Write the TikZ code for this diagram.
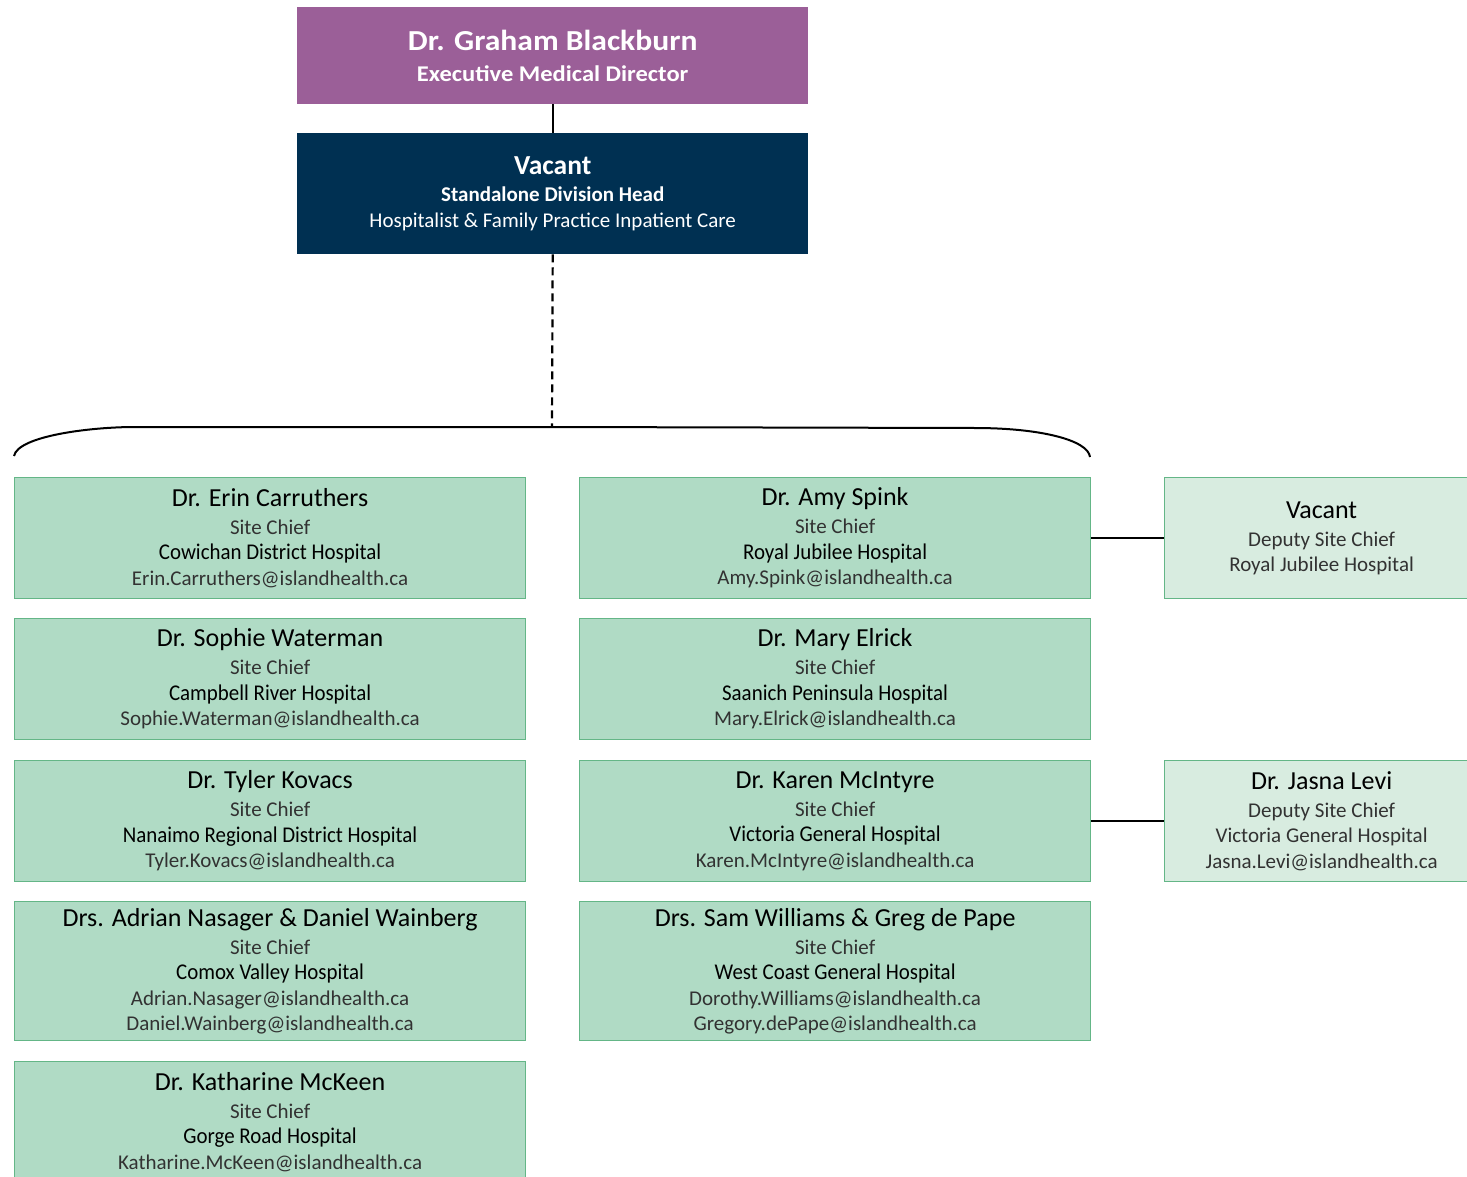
\documentclass[tikz,border=0pt]{standalone}
\usepackage{fontspec}
\setmainfont{Carlito}
\newfontfamily\condf[FakeStretch=0.93]{Carlito}
\newfontfamily\widef[FakeStretch=1.09]{Carlito}
\definecolor{purplebox}{RGB}{155,95,152}
\definecolor{navybox}{RGB}{0,48,82}
\definecolor{greenfill}{RGB}{176,219,197}
\definecolor{lightfill}{RGB}{216,236,224}
\definecolor{greenline}{RGB}{100,182,135}
\definecolor{subgray}{RGB}{50,50,50}
\newcommand\namef{\fontsize{26}{28}\selectfont}
\newcommand\smallf{\fontsize{21}{25.5}\selectfont}
\newcommand\hospf{\condf\fontsize{22.5}{25.5}\selectfont}
\newcommand\subt[1]{{\color{subgray}#1}}
\begin{document}
\begin{tikzpicture}[x=1pt,y=-1pt,
  topbox/.style={anchor=north west,inner sep=0pt,minimum width=511pt,align=center,text=white,font=\smallf},
  chief/.style={draw=greenline,fill=greenfill,line width=1.2pt,anchor=north west,inner sep=0pt,
    minimum width=511pt,minimum height=121pt,align=center,font=\smallf,text=black},
  deputy/.style={chief,fill=lightfill,minimum width=314pt},
  link/.style={line width=2.2pt,black},
  dashlink/.style={line width=2.2pt,black,dash pattern=on 8pt off 5pt},
]
\useasboundingbox (0,0) rectangle (1467,1177);

\node[topbox,fill=purplebox,minimum height=97pt] (ed) at (297,7)
  {{\widef\bfseries\fontsize{29}{30}\selectfont Dr. Graham Blackburn}\\[5pt]
   {\widef\bfseries\fontsize{22.5}{25}\selectfont Executive Medical Director}};
\node[topbox,fill=navybox,minimum height=121pt] (dh) at (297,133)
  {{\bfseries\fontsize{27.5}{28}\selectfont Vacant}\\[2pt]
   {\bfseries Standalone Division Head}\\
   {Hospitalist \& Family Practice Inpatient Care}};

\coordinate (br) at (552,427);
\draw[link] (ed.south) -- (dh.north);
\draw[dashlink] (dh.south) -- (br);
\draw[line width=2pt] (14,456) .. controls (18,436) and (90,427) .. (135,427) -- (br)
  -- (975,428) .. controls (1040,428) and (1088,440) .. (1090,457);

% column 1
\node[chief] (c1) at (14,477)
  {{\namef Dr. Erin Carruthers}\\[2.5pt]\subt{Site Chief}\\{\hospf Cowichan District Hospital}\\\subt{Erin.Carruthers@islandhealth.ca}};
\node[chief] (c2) at (14,618)
  {{\namef Dr. Sophie Waterman}\\[2.5pt]\subt{Site Chief}\\{\hospf Campbell River Hospital}\\\subt{Sophie.Waterman@islandhealth.ca}};
\node[chief] (c3) at (14,760)
  {{\namef Dr. Tyler Kovacs}\\[2.5pt]\subt{Site Chief}\\{\hospf Nanaimo Regional District Hospital}\\\subt{Tyler.Kovacs@islandhealth.ca}};
\node[chief,minimum height=139pt] (c4) at (14,901)
  {{\namef Drs. Adrian Nasager \& Daniel Wainberg}\\[2.5pt]\subt{Site Chief}\\{\hospf Comox Valley Hospital}\\\subt{Adrian.Nasager@islandhealth.ca}\\\subt{Daniel.Wainberg@islandhealth.ca}};
\node[chief] (c5) at (14,1061)
  {{\namef Dr. Katharine McKeen}\\[2.5pt]\subt{Site Chief}\\{\hospf Gorge Road Hospital}\\\subt{Katharine.McKeen@islandhealth.ca}};

% column 2
\node[chief] (m1) at (579,477)
  {{\namef Dr. Amy Spink}\\[2.5pt]\subt{Site Chief}\\{\hospf Royal Jubilee Hospital}\\\subt{Amy.Spink@islandhealth.ca}};
\node[chief] (m2) at (579,618)
  {{\namef Dr. Mary Elrick}\\[2.5pt]\subt{Site Chief}\\{\hospf Saanich Peninsula Hospital}\\\subt{Mary.Elrick@islandhealth.ca}};
\node[chief] (m3) at (579,760)
  {{\namef Dr. Karen McIntyre}\\[2.5pt]\subt{Site Chief}\\{\hospf Victoria General Hospital}\\\subt{Karen.McIntyre@islandhealth.ca}};
\node[chief,minimum height=139pt] (m4) at (579,901)
  {{\namef Drs. Sam Williams \& Greg de Pape}\\[2.5pt]\subt{Site Chief}\\{\hospf West Coast General Hospital}\\\subt{Dorothy.Williams@islandhealth.ca}\\\subt{Gregory.dePape@islandhealth.ca}};

% column 3
\node[deputy] (d1) at (1164,477)
  {{\namef Vacant}\\[2.5pt]\subt{Deputy Site Chief}\\\subt{Royal Jubilee Hospital}};
\node[deputy] (d3) at (1164,760)
  {{\namef Dr. Jasna Levi}\\[2.5pt]\subt{Deputy Site Chief}\\\subt{Victoria General Hospital}\\\subt{Jasna.Levi@islandhealth.ca}};

\draw[link] (m1.east) -- (d1.west);
\draw[link] (m3.east) -- (d3.west);
\end{tikzpicture}
\end{document}
